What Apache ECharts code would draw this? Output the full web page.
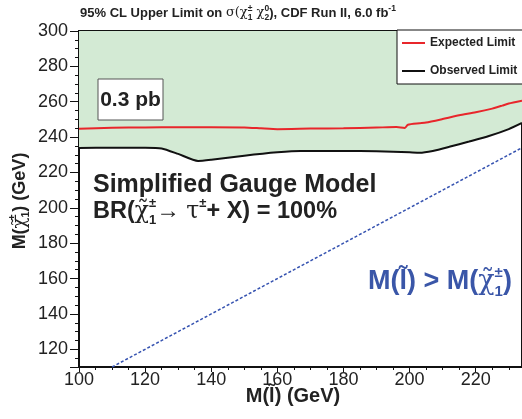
<!DOCTYPE html>
<html>
<head>
<meta charset="utf-8">
<script src="https://cdn.jsdelivr.net/npm/echarts@6/dist/echarts.min.js"></script>
<style>
html,body{margin:0;padding:0;background:#fff;}
#c{width:522px;height:419px;}
</style>
</head>
<body>
<div id="c"></div>
<script>
// Expected limit (red)
var expX = [100,110,120,130,140,150,155,160,170,180,190,196,198.5,199.5,203,205,210,215,220,225,228,230,234];
var expY = [244.7,245.3,245.5,245.6,245.6,245.5,245.0,244.5,244.8,245.0,245.4,245.7,245.2,247.0,247.8,248.2,250.2,252.3,254.0,256.1,257.8,259.0,260.6];
// Observed limit (black)
var obsX = [100,110,120,125,130,136,140,150,160,167,180,190,200,203,207,212,218,224,230,234];
var obsY = [233.8,234.0,234.0,233.6,230.5,226.5,227.2,229.5,231.4,232.2,232.2,232.0,231.4,231.2,232.2,234.5,237.5,240.6,244.5,248.0];
// Kinematic boundary M(slepton) = M(chargino)
var diagX = [110,234];
var diagY = [110,234];

var xMin = 100, xMax = 234, yMin = 110, yMax = 300;

function pairs(xs, ys){ return xs.map(function(x,i){ return [x, ys[i]]; }); }

var FONT = "'Liberation Sans', Arial, Helvetica, sans-serif";
var SERIF = "'DejaVu Serif', serif";
var chart = echarts.init(document.getElementById('c'), null, {renderer:'canvas'});

function richSet(size, supSize, lh, col){
  return {
    t:{fontFamily:FONT, fontSize:size, fontWeight:'bold', fill:col, lineHeight:lh, verticalAlign:'middle'},
    g:{fontFamily:SERIF, fontSize:size, fill:col, lineHeight:lh, verticalAlign:'middle'},
    sp:{fontFamily:FONT, fontSize:supSize, fontWeight:'bold', fill:col, lineHeight:supSize, verticalAlign:'top'},
    sz:{fontFamily:FONT, fontSize:supSize, fontWeight:'bold', fill:col, lineHeight:supSize, verticalAlign:'top', width:0.01},
    sb:{fontFamily:FONT, fontSize:supSize, fontWeight:'bold', fill:col, lineHeight:supSize, verticalAlign:'bottom'}
  };
}

var option = {
  animation:false,
  backgroundColor:'#fff',
  grid:{left:79, right:-3, top:31, bottom:52, show:true, borderColor:'#111', borderWidth:2, backgroundColor:'transparent'},
  xAxis:{
    type:'value', min:xMin, max:xMax, interval:20,
    axisLine:{show:true, lineStyle:{color:'#111', width:2}},
    axisTick:{show:true, inside:false, length:5, lineStyle:{color:'#111', width:1}},
    minorTick:{show:true, splitNumber:4, length:3, lineStyle:{color:'#111'}},
    splitLine:{show:false},
    axisLabel:{fontFamily:FONT, fontSize:18, color:'#222', margin:4, showMaxLabel:false}
  },
  yAxis:{
    type:'value', min:yMin, max:yMax, splitNumber:10,
    axisLine:{show:true, lineStyle:{color:'#111', width:2}},
    axisTick:{show:true, inside:false, length:9, lineStyle:{color:'#111', width:1}},
    minorTick:{show:true, splitNumber:4, length:4, lineStyle:{color:'#111'}},
    splitLine:{show:false},
    axisLabel:{fontFamily:FONT, fontSize:18, color:'#222', margin:11, showMinLabel:false}
  },
  legend:{
    orient:'vertical', left:397, top:30,
    padding:[7,40,7,5], itemGap:16, itemWidth:23, itemHeight:2,
    backgroundColor:'#fff', borderColor:'#111', borderWidth:1,
    textStyle:{fontFamily:FONT, fontSize:12, fontWeight:'bold', color:'#222'},
    selectedMode:false,
    data:[
      {name:'Expected Limit', icon:'rect', itemStyle:{color:'#e8262b'}},
      {name:'Observed Limit', icon:'rect', itemStyle:{color:'#111'}}
    ]
  },
  series:[
    {
      name:'Observed Limit', type:'line', data:pairs(obsX, obsY),
      showSymbol:false, smooth:0.2, z:2, color:'#111',
      lineStyle:{color:'#111', width:2},
      areaStyle:{origin:'end', color:'#d3ead4', opacity:1}
    },
    {
      name:'Expected Limit', type:'line', data:pairs(expX, expY),
      showSymbol:false, smooth:0.2, z:4, color:'#e8262b',
      lineStyle:{color:'#e8262b', width:2}
    },
    {
      name:'boundary', type:'line', data:pairs(diagX, diagY),
      showSymbol:false, z:4, color:'#3552b0',
      lineStyle:{color:'#3552b0', width:1.5, type:[3,2]}
    }
  ],
  graphic:[
    {type:'text', x:80, y:13, z:10, style:{
      text:'{t|95% CL Upper Limit on }{g|σ(χ}{sz|±}{sb|1}{g| χ}{sz|0}{sb|2}{t|), CDF Run II, 6.0 fb}{sp|-1}',
      align:'left', verticalAlign:'middle',
      rich:richSet(13, 8.5, 18, '#222')
    }},
    {type:'rect', z:10, shape:{x:98, y:79, width:65, height:41}, style:{fill:'#fff', stroke:'#555', lineWidth:1}},
    {type:'text', z:11, x:130.5, y:100, style:{text:'0.3 pb', font:"bold 21px 'Liberation Sans', Arial, sans-serif", fill:'#222', align:'center', verticalAlign:'middle'}},
    {type:'text', x:93, y:185, z:10, style:{text:'Simplified Gauge Model', font:"bold 25px 'Liberation Sans', Arial, sans-serif", fill:'#222', align:'left', verticalAlign:'middle'}},
    {type:'text', x:93, y:212, z:10, style:{
      text:'{t|BR(}{g|χ̃}{sz|±}{sb|1}{t|→ }{g|τ}{sp|±}{t|+ X) = 100%}',
      align:'left', verticalAlign:'middle',
      rich:richSet(23.5, 13, 30, '#222')
    }},
    {type:'text', x:368, y:282, z:10, style:{
      text:'{t|M(l̃) > M(}{g|χ̃}{sz|±}{sb|1}{t|)}',
      align:'left', verticalAlign:'middle',
      rich:richSet(27, 15, 34, '#3a56a8')
    }},
    {type:'text', x:293, y:396, z:10, style:{text:'M(l̃) (GeV)', font:"bold 20px 'Liberation Sans', Arial, sans-serif", fill:'#222', align:'center', verticalAlign:'middle'}},
    {type:'text', x:20, y:201, rotation:Math.PI/2, z:10, style:{
      text:'{t|M(}{g|χ̃}{sz|±}{sb|1}{t|) (GeV)}',
      align:'center', verticalAlign:'middle',
      rich:richSet(18, 10.5, 24, '#222')
    }}
  ]
};
chart.setOption(option);
</script>
</body>
</html>
